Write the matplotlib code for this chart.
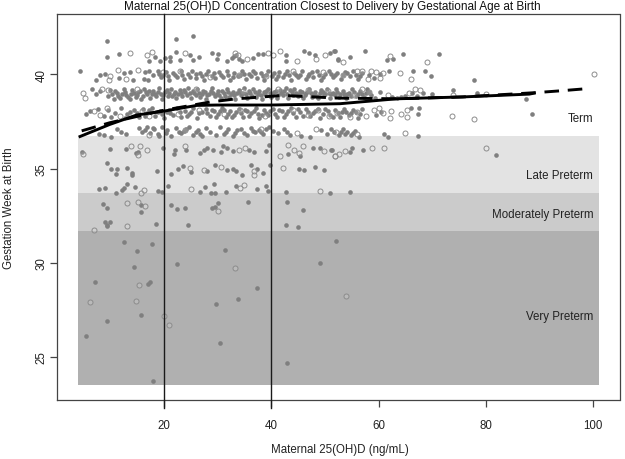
import matplotlib
matplotlib.use('Agg')
import matplotlib.pyplot as plt

plt.rcParams['font.family'] = ['Liberation Sans', 'DejaVu Sans']

# Filled points (x = 25(OH)D, y = gestation week)
week_below_32 = [(52.15, 31.15), (12.6, 31.08), (17.8, 31.0), (15.0, 30.65), (31.4, 30.69), (49.1, 30.0),
                 (22.5, 29.93), (14.5, 29.8), (7.15, 29.0), (17.4, 29.0), (17.0, 28.88), (37.3, 28.67),
                 (33.8, 28.09), (29.7, 27.82), (15.8, 27.24), (9.3, 26.9), (5.5, 26.1), (30.5, 25.73),
                 (43.0, 24.67), (17.9, 23.75), (9.07, 32.16), (9.9, 32.18), (9.3, 32.03), (9.4, 31.93),
                 (18.6, 32.05), (24.5, 32.02), (42.7, 32.02), (44.9, 31.9)]
week_33 = [(9.45, 32.9), (8.6, 33.1), (15.8, 33.06), (15.7, 32.7), (21.3, 33.06), (22.4, 32.87), (24.0, 32.9),
           (29.0, 32.9), (29.6, 32.97), (30.0, 33.15), (35.6, 33.24), (43.0, 33.2), (46.0, 32.8)]
week_34 = [(7.95, 33.9), (9.0, 33.95), (11.0, 33.72), (12.1, 33.86), (12.55, 33.95), (13.2, 34.16), (14.6, 34.03),
           (18.95, 33.8), (19.6, 33.77), (20.8, 34.07), (26.7, 33.75), (27.6, 34.0), (28.7, 33.72), (29.4, 34.2),
           (29.6, 33.72), (31.5, 33.77), (33.5, 34.07), (37.4, 33.9), (39.1, 34.07), (39.4, 33.8), (42.7, 33.77),
           (51.0, 33.7), (54.6, 33.77)]
week_35 = [(9.45, 35.27), (10.1, 35.0), (11.2, 35.0), (13.2, 35.04), (11.0, 34.69), (14.0, 34.77), (14.1, 34.64),
           (18.7, 34.87), (21.4, 34.69), (22.7, 34.95), (23.6, 35.13), (25.1, 34.8), (28.1, 34.87), (29.5, 35.17),
           (31.7, 34.9), (32.8, 35.0), (33.5, 34.87), (34.5, 34.64), (36.3, 35.19), (37.25, 35.0), (38.5, 34.78),
           (39.75, 35.19), (45.1, 35.0), (46.1, 34.9), (48.2, 35.08), (49.8, 34.9)]
week_36 = [(4.67, 35.87), (9.9, 36.05), (12.9, 36.05), (15.2, 35.9), (14.8, 35.8), (19.9, 36.07), (22.05, 36.0),
           (21.9, 35.75), (24.2, 36.0), (26.7, 35.85), (27.45, 36.0), (28.0, 36.1), (29.2, 36.0), (30.55, 35.87),
           (31.0, 36.2), (31.7, 36.1), (32.9, 35.93), (35.8, 36.0), (36.8, 35.87), (39.1, 35.93), (39.55, 36.23),
           (43.15, 35.75), (45.3, 35.66), (47.8, 36.1), (49.05, 36.07), (51.35, 36.0), (51.2, 36.0), (55.1, 36.1),
           (54.6, 35.87), (57.1, 35.96), (81.9, 35.7)]
week_37 = [(7.9, 36.85), (8.8, 36.8), (10.1, 36.7), (11.2, 37.1), (12.0, 36.95), (12.9, 36.85), (15.3, 37.15),
           (16.0, 36.95), (16.8, 37.2), (17.4, 36.9), (18.2, 37.1), (18.9, 36.85), (19.7, 37.2), (20.6, 37.05),
           (21.4, 36.75), (22.3, 37.15), (23.1, 36.9), (24.6, 37.2), (25.4, 36.8), (26.3, 37.05), (27.1, 36.72),
           (27.9, 37.15), (28.6, 36.95), (30.4, 37.2), (31.1, 36.85), (31.9, 37.1), (32.8, 36.75), (33.7, 37.05),
           (34.9, 36.9), (36.2, 37.15), (36.9, 36.95), (37.7, 37.05), (38.5, 36.85), (39.6, 37.2), (40.4, 37.0),
           (41.2, 36.9), (42.3, 37.1), (43.4, 36.8), (45.6, 36.75), (47.3, 36.7), (49.2, 37.05), (50.3, 36.85),
           (51.1, 37.1), (52.6, 36.8), (53.4, 37.1), (54.1, 36.95), (54.9, 36.8), (55.6, 37.0), (56.4, 36.7),
           (61.1, 36.85), (61.8, 36.67), (67.4, 36.73), (19.0, 36.75), (23.8, 37.0), (29.7, 36.8), (35.4, 36.78),
           (16.4, 37.05), (17.9, 37.15), (20.3, 36.9), (22.8, 36.95), (24.1, 37.1), (25.9, 36.95), (26.8, 36.85),
           (31.5, 36.95), (33.2, 36.9), (34.3, 37.1), (36.6, 37.0), (38.1, 36.95), (39.0, 37.1), (42.9, 36.95),
           (51.6, 36.95), (53.0, 36.95), (53.8, 36.85), (55.2, 36.9)]
week_38 = [(5.4, 37.9), (6.2, 38.05), (7.8, 38.15), (8.9, 37.8), (9.6, 38.1), (10.8, 37.95), (12.0, 38.2),
           (12.7, 37.7), (13.6, 38.0), (14.4, 38.1), (15.3, 37.75), (16.1, 38.15), (16.9, 37.95), (17.7, 38.2),
           (18.4, 37.8), (19.2, 38.05), (20.1, 37.7), (20.9, 38.1), (21.6, 37.85), (22.4, 38.2), (23.2, 37.75),
           (23.9, 38.05), (24.7, 37.9), (25.5, 38.2), (26.2, 37.7), (27.0, 38.0), (27.8, 38.15), (28.5, 37.8),
           (29.3, 38.05), (30.0, 37.9), (30.9, 38.2), (31.6, 37.72), (32.3, 38.05), (33.1, 37.85), (33.9, 38.15),
           (34.7, 37.75), (35.5, 38.05), (36.3, 37.95), (37.1, 38.2), (37.8, 37.7), (38.6, 38.1), (39.4, 37.85),
           (40.3, 38.15), (41.1, 37.75), (42.0, 38.05), (42.8, 37.9), (43.7, 38.2), (44.6, 37.72), (45.4, 38.0),
           (46.5, 38.15), (47.3, 37.8), (48.2, 38.05), (49.1, 37.7), (50.0, 38.15), (51.0, 37.85), (51.9, 38.1),
           (52.8, 37.75), (53.6, 38.15), (54.4, 37.85), (55.3, 38.1), (56.2, 37.7), (57.0, 38.15), (59.6, 37.85),
           (60.4, 38.0), (66.1, 38.23), (67.5, 38.23), (67.4, 37.9), (88.6, 37.9)]
week_38_more = [(18.9, 38.0), (19.6, 37.9), (21.2, 37.95), (22.9, 38.0), (24.3, 37.8), (25.1, 38.0), (26.6, 37.95),
                (28.1, 37.95), (28.9, 38.1), (29.7, 37.75), (30.4, 38.05), (31.2, 38.1), (32.0, 37.9), (32.7, 37.75),
                (33.5, 38.0), (34.3, 37.95), (35.1, 38.1), (35.9, 37.8), (36.7, 38.05), (37.5, 37.9), (38.2, 37.85),
                (39.0, 37.95), (39.8, 38.05), (40.7, 37.9), (41.5, 38.1), (42.4, 37.75), (43.2, 38.05), (44.1, 37.95),
                (45.0, 38.15), (46.0, 37.8), (46.9, 38.0), (47.8, 37.95), (48.7, 38.15), (49.6, 37.9), (50.5, 38.05),
                (51.5, 37.75), (52.4, 37.95), (53.2, 38.0), (54.0, 38.0), (54.9, 37.95), (55.8, 38.0), (56.6, 37.9),
                (10.2, 37.75), (13.1, 37.9), (14.9, 37.95), (16.5, 37.8), (17.2, 38.1), (20.5, 38.0)]
week_39 = [(6.5, 39.2), (7.3, 38.95), (8.0, 39.1), (9.5, 38.85), (10.0, 39.15), (10.6, 38.7), (11.2, 39.0),
           (11.9, 38.75), (12.5, 39.2), (13.0, 38.9), (13.6, 38.7), (14.1, 39.15), (14.7, 38.8), (15.2, 39.05),
           (15.8, 38.7), (16.3, 39.2), (16.9, 38.95), (17.4, 38.75), (18.0, 39.1), (18.5, 38.85), (19.1, 39.25),
           (19.6, 38.7), (20.2, 39.05), (20.7, 38.85), (21.3, 39.2), (21.8, 38.95), (22.3, 38.72), (22.9, 39.15),
           (23.4, 38.85), (24.0, 39.05), (24.5, 39.25), (25.1, 38.75), (25.6, 39.0), (26.2, 39.2), (26.7, 38.8),
           (27.3, 39.1), (27.8, 38.7), (28.4, 38.95), (28.9, 39.25), (29.5, 38.85), (30.0, 39.1), (30.6, 38.72),
           (31.1, 39.0), (31.7, 39.22), (32.2, 38.8), (32.8, 39.05), (33.3, 38.7), (33.9, 39.18), (34.4, 38.9),
           (35.0, 39.25), (35.5, 38.75), (36.1, 39.0), (36.6, 39.2), (37.2, 38.82), (37.7, 39.1), (38.3, 38.7),
           (38.8, 38.95), (39.4, 39.22), (39.9, 38.8), (40.5, 39.05), (41.0, 38.72), (41.6, 39.18), (42.1, 38.9),
           (42.7, 39.25), (43.2, 38.75), (43.8, 39.05), (44.3, 39.2), (44.9, 38.85), (45.4, 39.1), (46.0, 38.72),
           (46.5, 39.0), (47.1, 39.2), (47.6, 38.8), (48.2, 39.05), (48.7, 38.72), (49.3, 39.15), (49.8, 38.9),
           (50.4, 39.2), (50.9, 38.75), (51.5, 39.0), (52.0, 39.2), (52.6, 38.82), (53.3, 39.1), (53.9, 38.75),
           (54.5, 39.0), (55.1, 39.2), (55.8, 38.85), (56.5, 39.1), (57.2, 38.8), (57.9, 39.2), (58.6, 38.9),
           (59.4, 38.75), (60.3, 39.05), (62.5, 38.8), (63.4, 38.75), (64.2, 38.8), (65.0, 38.85), (66.3, 39.0),
           (67.1, 38.85), (68.2, 39.0), (69.9, 38.95), (73.9, 39.17), (78.4, 39.0), (87.5, 38.67)]
week_39_more = [(10.3, 38.95), (10.9, 39.1), (11.5, 38.85), (12.2, 38.95), (12.8, 39.05), (13.3, 38.8), (13.9, 38.95),
                (14.4, 39.0), (15.0, 38.9), (15.5, 39.1), (16.1, 38.85), (16.6, 39.05), (17.2, 39.1), (17.7, 38.95),
                (18.3, 38.95), (18.8, 39.05), (19.4, 38.95), (19.9, 38.9), (20.5, 39.15), (21.0, 39.0), (21.5, 38.85),
                (22.1, 39.05), (22.6, 38.95), (23.2, 39.0), (23.7, 39.15), (24.3, 38.9), (24.8, 39.0), (25.4, 39.12),
                (25.9, 38.9), (26.5, 39.0), (27.0, 38.95), (27.6, 39.05), (28.1, 38.9), (28.7, 39.1), (29.2, 39.0),
                (29.8, 38.95), (30.3, 38.9), (30.9, 39.1), (31.4, 38.85), (32.0, 39.05), (32.5, 38.95), (33.1, 38.9),
                (33.6, 39.0), (34.2, 39.05), (34.7, 39.0), (35.3, 38.95), (35.8, 39.1), (36.4, 38.85), (36.9, 39.05),
                (37.5, 38.95), (38.0, 38.9), (38.6, 39.05), (39.1, 39.1), (39.7, 39.0), (40.2, 38.9), (40.8, 39.1),
                (41.3, 38.9), (41.9, 39.0), (42.4, 39.1), (43.0, 38.95), (43.5, 39.15), (44.1, 38.9), (44.6, 39.0),
                (45.2, 38.95), (45.7, 39.05), (46.3, 38.9), (46.8, 39.1), (47.4, 39.0), (47.9, 38.95), (48.5, 38.85),
                (49.0, 39.0), (49.6, 39.05), (50.1, 38.95), (50.7, 39.0), (51.2, 38.95), (51.8, 38.9), (52.3, 39.05),
                (52.9, 38.95), (53.6, 38.95), (54.2, 38.95), (54.8, 38.85), (55.4, 39.05), (56.2, 38.95), (56.9, 38.95),
                (57.6, 39.0), (58.3, 39.05)]
week_40 = [(4.35, 40.15), (7.3, 39.68), (8.1, 39.94), (9.0, 40.0), (11.7, 39.8), (12.5, 40.09), (13.7, 40.12),
           (14.2, 39.68), (16.3, 39.73), (17.1, 39.68), (16.4, 40.1), (17.3, 40.15), (18.0, 39.95), (18.8, 40.15),
           (19.5, 39.85), (20.3, 40.12), (21.0, 39.72), (21.7, 40.05), (22.4, 39.85), (23.1, 40.18), (23.8, 39.75),
           (24.5, 40.0), (25.3, 40.15), (26.0, 39.8), (26.8, 40.05), (27.5, 39.72), (28.2, 40.15), (28.9, 39.9),
           (29.6, 39.78), (30.3, 40.1), (31.0, 39.85), (31.7, 40.18), (32.4, 39.72), (33.1, 40.05), (33.8, 39.9),
           (34.5, 40.15), (35.2, 39.75), (35.9, 40.0), (36.6, 40.18), (37.3, 39.8), (38.0, 40.05), (38.7, 39.72),
           (39.4, 40.15), (40.1, 39.9), (40.8, 39.75), (41.5, 40.12), (42.2, 39.85), (42.9, 40.18), (43.6, 39.72),
           (44.3, 40.05), (45.0, 39.88), (45.7, 40.15), (46.4, 39.75), (47.1, 40.0), (47.8, 39.85), (48.5, 40.15),
           (49.2, 39.72), (50.0, 40.0), (50.8, 40.15), (51.5, 39.85), (52.3, 40.05), (53.0, 39.75), (53.8, 40.12),
           (54.6, 39.9), (55.3, 40.15), (56.1, 39.75), (57.0, 40.05), (58.3, 39.95), (59.1, 39.8), (60.2, 40.0),
           (61.95, 40.2), (66.5, 40.18), (68.7, 40.18), (69.8, 39.9), (77.8, 39.7)]
week_40_more = [(19.0, 40.0), (19.9, 39.95), (20.8, 39.9), (22.0, 39.95), (23.4, 39.95), (24.9, 39.85), (25.9, 40.0),
                (27.1, 39.9), (27.9, 40.0), (29.3, 40.05), (30.7, 39.95), (32.0, 39.95), (32.8, 39.85), (34.2, 39.95),
                (35.0, 40.0), (36.2, 39.9), (37.0, 40.05), (38.4, 39.9), (39.1, 39.95), (40.5, 40.05), (41.2, 39.9),
                (42.6, 40.0), (43.3, 39.95), (44.7, 39.95), (45.4, 39.95), (46.8, 39.9), (47.5, 40.1), (48.9, 39.95),
                (49.6, 39.85), (51.1, 40.0), (51.9, 39.95), (53.4, 39.95), (54.2, 40.05), (55.7, 39.95), (56.5, 39.9)]
week_41 = [(9.45, 41.77), (22.2, 41.9), (25.5, 42.03), (9.45, 40.94), (11.7, 41.1), (17.3, 40.7), (18.3, 40.9),
           (19.3, 40.7), (20.2, 40.85), (21.1, 40.94), (22.2, 41.2), (21.2, 40.7), (23.0, 40.76), (24.8, 41.03),
           (26.5, 40.94), (25.5, 40.74), (29.0, 41.15), (30.1, 41.06), (29.8, 40.8), (31.7, 40.7), (32.6, 40.88),
           (34.5, 40.7), (36.6, 40.88), (37.6, 41.06), (38.5, 41.1), (42.8, 41.0), (42.8, 40.7), (46.1, 41.24),
           (47.1, 41.15), (48.1, 41.0), (51.7, 41.24), (50.9, 41.15), (52.5, 40.74), (51.8, 41.24), (54.75, 40.94),
           (57.4, 41.24), (52.5, 40.8), (61.6, 40.76), (62.7, 40.83), (64.5, 41.1), (71.3, 41.1), (33.0, 40.95),
           (33.4, 41.0), (34.0, 40.8)]

# Open points
open_points = [(13.2, 31.95), (7.0, 31.73), (33.2, 29.72), (15.3, 28.83), (6.2, 27.9), (14.8, 27.98), (20.0, 27.17),
               (21.0, 26.69), (53.9, 28.25), (13.2, 33.15), (15.2, 33.2), (16.5, 33.0), (30.0, 32.76), (15.65, 33.72),
               (16.3, 33.84), (24.95, 33.9), (34.15, 33.95), (34.95, 34.12), (49.05, 33.8), (24.8, 35.04),
               (27.45, 34.92), (30.7, 35.07), (36.8, 34.87), (36.8, 34.65), (42.2, 35.04), (4.85, 35.75),
               (13.85, 36.2), (15.5, 36.2), (16.8, 35.98), (15.2, 35.7), (23.9, 36.2), (34.0, 36.0), (35.1, 36.1),
               (41.6, 35.66), (43.1, 36.25), (44.3, 36.0), (45.1, 35.8), (45.95, 36.2), (49.8, 35.93), (51.85, 35.66),
               (52.6, 35.75), (51.8, 35.66), (53.7, 35.93), (58.8, 36.1), (61.1, 36.1), (80.0, 36.1), (64.9, 36.87),
               (24.0, 37.05), (17.2, 36.8), (38.0, 37.1), (44.8, 36.9), (48.3, 37.1), (52.0, 36.95), (55.9, 36.85),
               (7.0, 38.05), (8.1, 37.85), (9.3, 38.2), (11.8, 37.8), (15.9, 38.05), (17.3, 37.8), (22.7, 37.9),
               (26.6, 38.1), (31.2, 37.9), (34.1, 38.1), (38.9, 37.8), (44.0, 38.1), (46.9, 37.85), (48.8, 38.1),
               (50.7, 37.8), (52.2, 37.95), (54.7, 37.75), (56.0, 38.0), (57.7, 37.8), (59.2, 38.1), (60.8, 37.95),
               (62.1, 37.7), (64.2, 37.9), (65.3, 38.1), (65.3, 37.74), (73.7, 37.8), (77.8, 37.65), (62.3, 38.05),
               (60.0, 38.2), (5.0, 39.0), (5.3, 38.75), (8.5, 39.2), (9.6, 39.15), (14.9, 39.2), (25.9, 39.22),
               (34.7, 39.1), (41.3, 39.2), (46.8, 39.15), (50.6, 39.1), (55.4, 38.9), (56.9, 39.2), (58.2, 39.05),
               (61.8, 38.9), (65.7, 39.0), (66.8, 39.2), (67.8, 39.15), (73.9, 38.9), (80.1, 38.97), (9.9, 39.9),
               (9.8, 39.68), (11.4, 40.23), (13.0, 39.73), (15.2, 40.23), (19.9, 40.1), (23.0, 40.2), (28.5, 39.85),
               (34.0, 39.95), (39.0, 39.9), (44.1, 40.2), (49.6, 40.1), (53.4, 39.95), (55.9, 40.2), (57.0, 40.15),
               (58.0, 39.75), (58.6, 40.2), (59.6, 40.1), (60.2, 39.8), (60.9, 40.05), (63.9, 40.05), (66.1, 39.73),
               (100.2, 40.0), (13.7, 41.15), (16.8, 41.0), (17.8, 41.2), (24.0, 41.15), (33.2, 41.15), (33.8, 41.0),
               (35.4, 40.8), (39.4, 41.15), (40.4, 41.0), (41.6, 41.24), (44.8, 40.7), (48.4, 40.8), (50.0, 41.0),
               (53.3, 40.65), (62.1, 40.97), (69.1, 40.67)]

# Fitted curves
solid_x = [4.36, 9.9, 14.9, 20.06, 26.1, 29.8, 40.05, 52.8, 63.3, 75.7, 88.1, 89.0]
solid_y = [36.7, 37.34, 37.84, 38.05, 38.35, 38.37, 38.37, 38.44, 38.7, 38.8, 38.95, 39.0]
dash_x = [4.67, 7.1, 9.9, 20.06, 28.6, 33.5, 42.2, 52.2, 63.3, 75.7, 89.4, 93.7, 99.3]
dash_y = [37.0, 37.2, 37.43, 38.1, 38.53, 38.7, 38.88, 38.74, 38.7, 38.8, 39.03, 39.12, 39.25]

# Gestational age bands
band_names = ['Term', 'Late Preterm', 'Moderately Preterm', 'Very Preterm']
band_label_y = [37.66, 34.65, 32.6, 27.2]
band_edges = [(33.7, 36.72, '#e3e3e3'), (31.68, 33.7, '#cbcbcb'), (23.5, 31.68, '#b0b0b0')]
x_ticks = [20, 40, 60, 80, 100]
y_ticks = [25, 30, 35, 40]

filled_points = (week_below_32 + week_33 + week_34 + week_35 + week_36 + week_37 + week_38 + week_38_more
                 + week_39 + week_39_more + week_40 + week_40_more + week_41)

fig = plt.figure(figsize=(6.25, 4.6), dpi=100)
ax = fig.add_axes([57 / 625, 1 - 401 / 460, 562.5 / 625, 386 / 460])
ax.set_xlim(0.07, 104.9)
ax.set_ylim(22.72, 43.2)

# Draw the bands
for low, high, colour in band_edges:
    ax.fill_between([4, 101], low, high, color=colour, lw=0, zorder=1)

# Draw the points
ax.scatter([p[0] for p in filled_points], [p[1] for p in filled_points], s=11, color='#7f7f7f', lw=0, zorder=2)
ax.scatter([p[0] for p in open_points], [p[1] for p in open_points], s=13, facecolor='#ffffff22',
           edgecolor='#8c8c8c', lw=0.7, zorder=3)

# Reference lines and fits
for v in [20, 40]:
    ax.axvline(v, color='#1a1a1a', lw=1, ymin=-0.02, clip_on=False, zorder=4)
ax.plot(solid_x, solid_y, color='black', lw=2.1, zorder=5)
ax.plot(dash_x, dash_y, color='black', lw=2.1, dashes=(5, 3), zorder=5)

for name, y in zip(band_names, band_label_y):
    ax.text(100, y, name, ha='right', va='center', fontsize=8.3, color='#222222', zorder=6)

ax.set_xticks(x_ticks)
ax.set_yticks(y_ticks)
ax.tick_params(axis='x', length=5, width=0.9, color='#444444', labelsize=8.3, pad=9, labelcolor='#222222')
ax.tick_params(axis='y', length=5, width=0.9, color='#444444', labelsize=8.3, pad=2, labelcolor='#222222')
plt.setp(ax.get_yticklabels(), rotation=90, va='center')
for spine in ax.spines.values():
    spine.set_color('#444444')
    spine.set_linewidth(0.9)

fig.text(332 / 625, 1 - 7 / 460, 'Maternal 25(OH)D Concentration Closest to Delivery by Gestational Age at Birth',
         ha='center', va='center', fontsize=8.5, color='#111111')
fig.text(340 / 625, 1 - 450 / 460, 'Maternal 25(OH)D (ng/mL)', ha='center', va='center', fontsize=8.3, color='#222222')
fig.text(9 / 625, 1 - 208 / 460, 'Gestation Week at Birth', rotation=90, ha='center', va='center', fontsize=8.3,
         color='#222222')

fig.savefig('out.png', dpi=100)
plt.close()
